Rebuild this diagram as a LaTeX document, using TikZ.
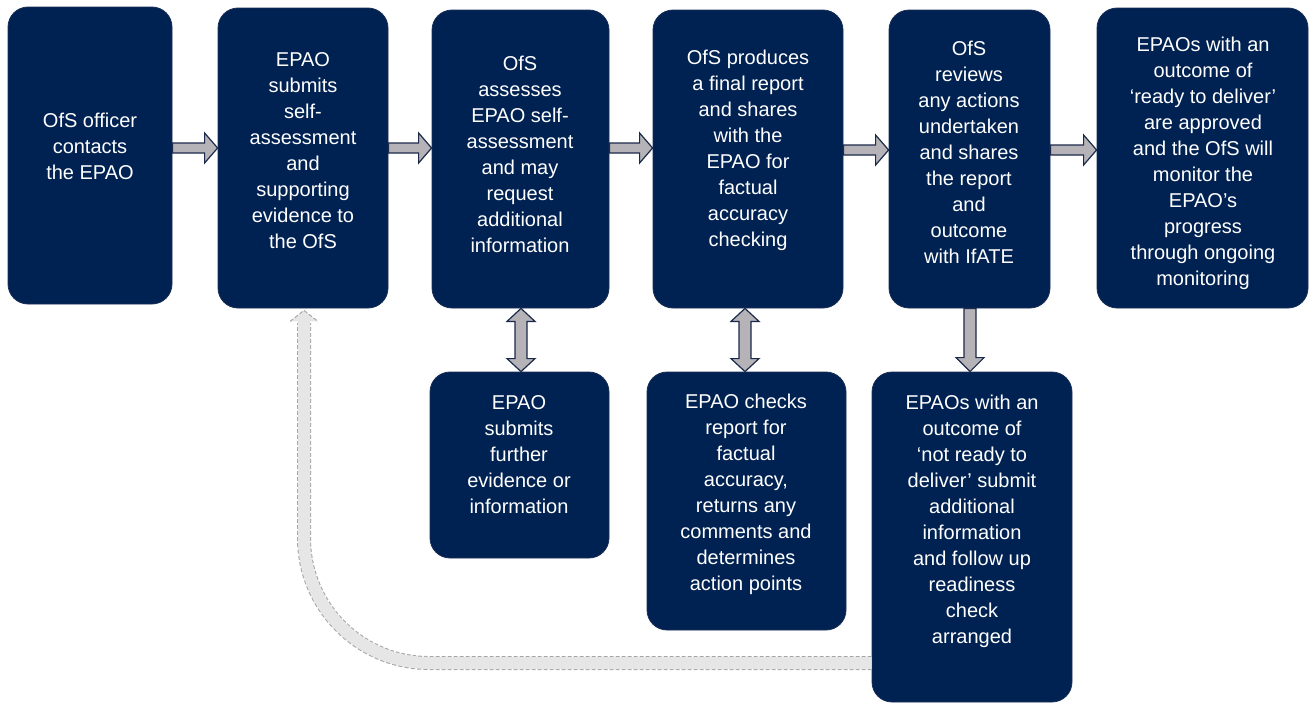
\documentclass[tikz,border=0pt]{standalone}
\usepackage{fontspec}
\setmainfont{Liberation Sans}
\usetikzlibrary{calc}
\definecolor{navy}{HTML}{002252}
\definecolor{navyedge}{HTML}{1A2E55}
\definecolor{arrowgrey}{HTML}{B5B3B8}
\definecolor{arrowedge}{HTML}{1B2A4A}
\definecolor{retfill}{HTML}{E6E6E6}
\definecolor{retedge}{HTML}{A6A6A6}
\tikzset{
  box/.style={rectangle, rounded corners=20pt, fill=navy, draw=navyedge, line width=0.8pt, inner sep=0pt},
  boxtext/.style={align=center, text=white, inner sep=0pt, font=\fontsize{20}{26}\selectfont},
  barrow/.style={fill=arrowgrey, draw=arrowedge, line width=1.2pt, line join=miter},
}
\begin{document}
\begin{tikzpicture}[x=1pt,y=-1pt]
\useasboundingbox (0,0) rectangle (1314,704);
% boxes
\node[box, minimum width=164pt, minimum height=297pt] (A) at (90,155.5) {};
\node[box, minimum width=170pt, minimum height=300pt] (B) at (303,158) {};
\node[box, minimum width=177pt, minimum height=298pt] (C) at (520.5,159) {};
\node[box, minimum width=190pt, minimum height=298pt] (D) at (748,159) {};
\node[box, minimum width=161pt, minimum height=298pt] (E) at (969.5,159) {};
\node[box, minimum width=211pt, minimum height=300pt] (F) at (1202.5,158) {};
\node[box, minimum width=179pt, minimum height=186pt] (G) at (519.5,465) {};
\node[box, minimum width=199pt, minimum height=258pt] (H) at (746.5,501) {};
\node[box, minimum width=200pt, minimum height=330pt] (I) at (972,537) {};
% texts
\node[boxtext] (tA) at (90,146) {OfS officer\\contacts\\the EPAO};
\node[boxtext] (tB) at (303,151) {EPAO\\submits\\self-\\assessment\\and\\supporting\\evidence to\\the OfS};
\node[boxtext] (tC) at (520,154) {OfS\\assesses\\EPAO self-\\assessment\\and may\\request\\additional\\information};
\node[boxtext] (tD) at (748,150) {OfS produces\\a final report\\and shares\\with the\\EPAO for\\factual\\accuracy\\checking};
\node[boxtext] (tE) at (969,152) {OfS\\reviews\\any actions\\undertaken\\and shares\\the report\\and\\outcome\\with IfATE};
\node[boxtext] (tF) at (1203,163) {EPAOs with an\\outcome of\\‘ready to deliver’\\are approved\\and the OfS will\\monitor the\\EPAO’s\\progress\\through ongoing\\monitoring};
\node[boxtext] (tG) at (519,455) {EPAO\\submits\\further\\evidence or\\information};
\node[boxtext] (tH) at (746,494) {EPAO checks\\report for\\factual\\accuracy,\\returns any\\comments and\\determines\\action points};
\node[boxtext] (tI) at (972,521) {EPAOs with an\\outcome of\\‘not ready to\\deliver’ submit\\additional\\information\\and follow up\\readiness\\check\\arranged};
% horizontal block arrows
\foreach \s/\t/\yy in {A/B/148, B/C/148, C/D/148, D/E/150, E/F/150}{
  \draw[barrow] let \p1=(\s.east|-0,\yy), \p2=(\t.west|-0,\yy) in
    (\x1,\y1+5pt) -- (\x2-13pt,\y1+5pt) -- (\x2-13pt,\y1+15pt) -- (\x2,\y1)
    -- (\x2-13pt,\y1-15pt) -- (\x2-13pt,\y1-5pt) -- (\x1,\y1-5pt) -- cycle;
}
% vertical double arrows
\foreach \s/\t/\xx in {C/G/521, D/H/745}{
  \draw[barrow] let \p1=(\s.south-|\xx,0), \p2=(\t.north-|\xx,0) in
    (\x1,\y1) -- (\x1+14pt,\y1-13pt) -- (\x1+6pt,\y1-13pt) -- (\x1+6pt,\y2+13pt)
    -- (\x1+14pt,\y2+13pt) -- (\x1,\y2) -- (\x1-14pt,\y2+13pt) -- (\x1-6pt,\y2+13pt)
    -- (\x1-6pt,\y1-13pt) -- (\x1-14pt,\y1-13pt) -- cycle;
}
% single down arrow E -> I
\draw[barrow] let \p1=(E.south-|970,0), \p2=(I.north-|970,0) in
    (\x1+6pt,\y1) -- (\x1+6pt,\y2+14pt) -- (\x1+14pt,\y2+14pt) -- (\x1,\y2)
    -- (\x1-14pt,\y2+14pt) -- (\x1-6pt,\y2+14pt) -- (\x1-6pt,\y1) -- cycle;
% dashed return arrow I -> B
\coordinate (retcorner) at (304,663);
\coordinate (retheadbase) at (304,323);
\draw[retedge, line width=14pt, dash pattern=on 4pt off 2pt, rounded corners=125pt]
  (I.west|-retcorner) -- (retcorner) -- (retheadbase);
\draw[retfill, line width=12pt, rounded corners=125pt]
  (I.west|-retcorner) -- (retcorner) -- (retheadbase);
\draw[fill=retfill, draw=retedge, line width=1pt, dash pattern=on 4pt off 2pt, line join=miter]
  let \p1=(B.south-|304,0) in
  ($(\x1,\y1)+(-14pt,-13pt)$) -- (\x1,\y1-2pt) -- ($(\x1,\y1)+(14pt,-13pt)$);
\fill[retfill] ($(retheadbase)+(-6pt,-1pt)$) rectangle ($(retheadbase)+(6pt,4pt)$);
\end{tikzpicture}
\end{document}
